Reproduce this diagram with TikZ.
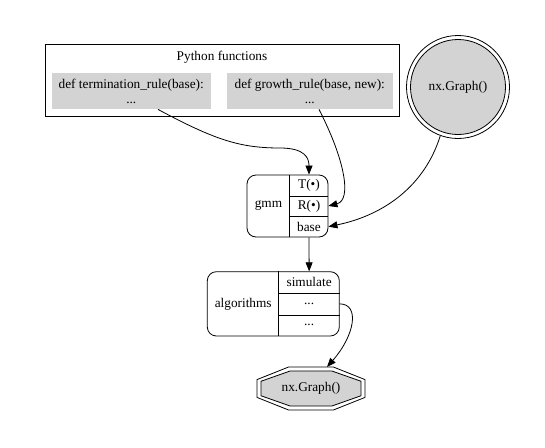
\documentclass[tikz,border=0pt]{standalone}
\usepackage{fontspec}
\setmainfont{Liberation Serif}
\usetikzlibrary{arrows.meta}
\definecolor{lgray}{HTML}{D3D3D3}
\tikzset{
  txt/.style={font=\fontsize{13.3}{15}\selectfont, inner sep=0pt, line width=0.8pt},
  graybox/.style={txt, fill=lgray, minimum height=36pt, align=center},
  fieldT/.style={txt, minimum width=38pt, minimum height=20.67pt},
  fieldA/.style={txt, minimum width=60.3pt, minimum height=21.43pt},
  edge/.style={line width=0.8pt, -{Triangle[length=9pt,width=7pt]}},
  lin/.style={line width=0.8pt},
}
\begin{document}
\begin{tikzpicture}[x=1pt,y=-1pt]
\useasboundingbox (0,0) rectangle (545,447);
% cluster
\node[txt, draw, minimum width=354pt, minimum height=72pt] (cluster) at (222,80) {};
\node[txt] (pylabel) at (222,57) {Python functions};
\node[graybox, minimum width=159.5pt] (term) at (131.25,91) {def termination\_rule(base):\\...};
\node[graybox, minimum width=165.5pt] (growth) at (309.75,91) {def growth\_rule(base, new):\\...};
% double circle
\node[txt, circle, draw, minimum size=103pt] (nxout) at (458,87) {};
\node[txt, circle, draw, fill=lgray, minimum size=95pt] (nxin) at (458,87) {nx.Graph()};
% gmm record
\node[txt, draw, rounded corners=9pt, minimum width=81pt, minimum height=62pt] (gmm) at (287.5,206) {};
\node[txt] (gmmlab) at (268.5,206) {gmm};
\node[fieldT] (gmmT) at (309,185.33) {T(•)};
\node[fieldT] (gmmR) at (309,206) {R(•)};
\node[fieldT] (gmmbase) at (309,226.67) {base};
\draw[lin] (gmmT.north west) -- (gmmbase.south west);
\draw[lin] (gmmT.south west) -- (gmmT.south east);
\draw[lin] (gmmR.south west) -- (gmmR.south east);
% algorithms record
\node[txt, draw, rounded corners=9pt, minimum width=132pt, minimum height=64.3pt] (alg) at (273.3,303.85) {};
\node[txt] (alglab) at (243.2,303.85) {algorithms};
\node[fieldA] (algsim) at (309.15,282.42) {simulate};
\node[fieldA] (algd1) at (309.15,303.85) {...};
\node[fieldA] (algd2) at (309.15,325.28) {...};
\draw[lin] (algsim.north west) -- (algd2.south west);
\draw[lin] (algsim.south west) -- (algsim.south east);
\draw[lin] (algd1.south west) -- (algd1.south east);
% double octagon
\draw[lin] (288.6,367) -- (333.4,367) -- (365,379.6) -- (365,397.4) -- (333.4,410) -- (288.6,410) -- (257,397.4) -- (257,379.6) -- cycle;
\draw[lin, fill=lgray] (290.1,371) -- (331.9,371) -- (361,381.25) -- (361,395.75) -- (331.9,406) -- (290.1,406) -- (261,395.75) -- (261,381.25) -- cycle;
\node[txt] (oct) at (311,388.5) {nx.Graph()};
\coordinate (octin) at (327,367);
% edges
\draw[edge] ([xshift=26.75pt]term.south) .. controls (215,140) and (240,148) .. (280,148) .. controls (305,148) and (309,158) .. (gmmT.north);
\draw[edge] ([xshift=9.25pt]growth.south) .. controls (345,160) and (352,200) .. (gmmR.east);
\draw[edge] (nxout.250) .. controls (425,185) and (385,215) .. (gmmbase.east);
\draw[edge] (gmmbase.south) -- (algsim.north);
\draw[edge] (algd1.east) .. controls (360,304) and (355,335) .. (octin);
\end{tikzpicture}
\end{document}
